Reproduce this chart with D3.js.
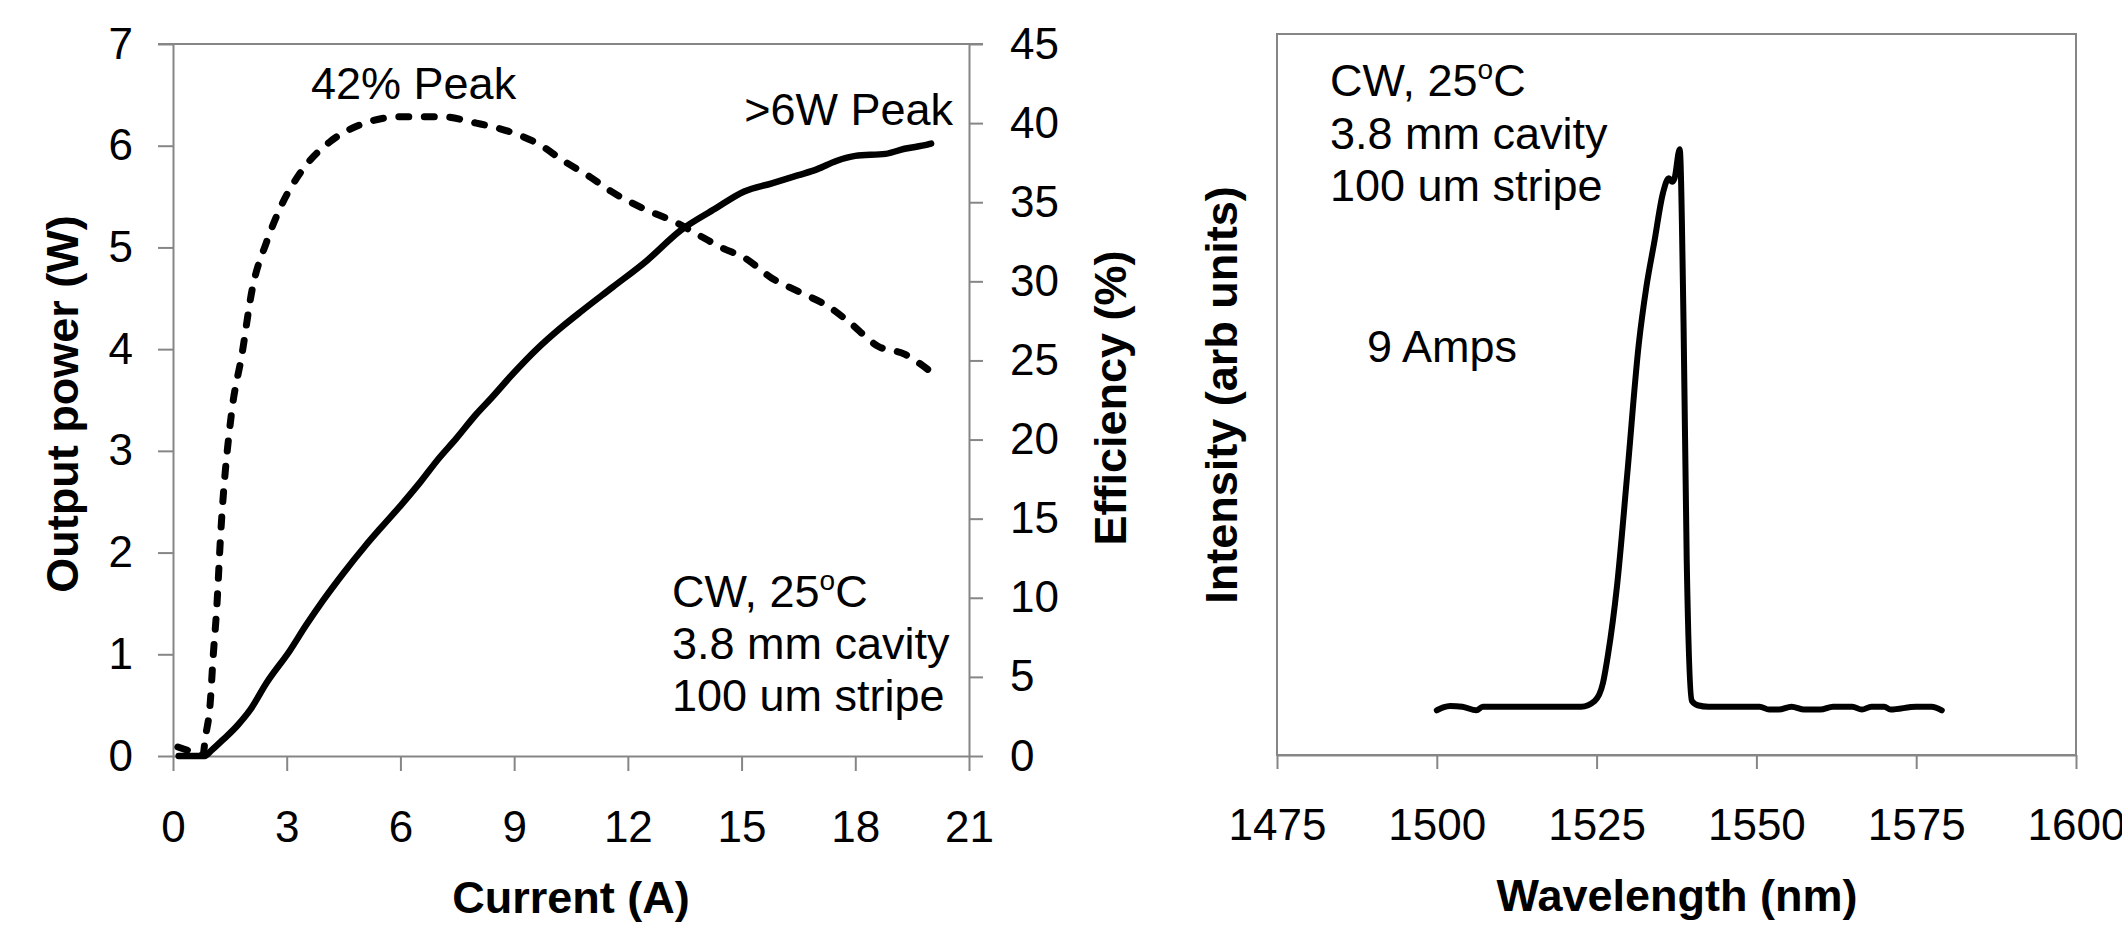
<!DOCTYPE html>
<html><head><meta charset="utf-8">
<script src="https://cdn.jsdelivr.net/npm/d3@7"></script>
<style>
body{margin:0;background:#fff;}
text{font-family:"Liberation Sans",Arial,sans-serif;fill:#000;}
</style></head><body>
<svg id="c" width="2122" height="927"></svg>
<script>
// ---- Data ----
const currentP = [0.15,0.5,0.84,1.0,1.32,1.7,2.03,2.47,3.09,3.5,3.96,4.5,5.06,5.5,6.0,6.54,7.0,7.47,8.0,8.4,8.95,9.6,10.2,10.8,11.6,12.5,13.4,14.3,15.07,15.8,16.5,17.0,17.5,18.0,18.8,19.3,19.9,20.0];
const powerW   = [0,0,0,0.05,0.16,0.3,0.45,0.72,1.04,1.28,1.53,1.8,2.06,2.25,2.46,2.7,2.92,3.12,3.36,3.52,3.75,4.0,4.2,4.38,4.61,4.87,5.17,5.38,5.55,5.63,5.71,5.77,5.85,5.9,5.92,5.97,6.01,6.02];
const currentE = [0.13,0.53,0.79,0.85,0.98,1.06,1.15,1.26,1.54,1.82,2.09,2.47,2.84,3.4,4.13,5.06,6.0,7.1,8.0,8.95,9.7,10.25,11.0,11.55,12.5,13.2,13.96,14.5,15.07,15.8,16.55,17.3,17.85,18.6,19.3,19.93];
const efficiencyPct = [0.57,0.25,0.06,1.1,3.3,6.3,9.2,14.1,21.6,25.4,29.5,32.5,34.7,37.0,38.8,40.0,40.4,40.4,40.0,39.4,38.6,37.7,36.6,35.7,34.5,33.8,32.8,32.1,31.5,30.2,29.3,28.4,27.4,25.9,25.4,24.4];
const wavelengthNm = [1500.0,1501,1502.1,1504,1506.2,1507.2,1512,1517,1522.6,1524.7,1526.0,1526.8,1528.2,1529.8,1531.6,1532.8,1534.0,1535.4,1536.3,1536.8,1537.2,1538.0,1538.6,1539.1,1539.9,1540.8,1542.5,1548,1550.5,1552,1553.5,1555.5,1557.5,1560,1562,1565,1566.5,1568,1570,1571,1575,1577.4,1579.0];
const intensityArb = [0.062,0.066,0.068,0.067,0.062,0.067,0.067,0.067,0.067,0.075,0.10,0.14,0.235,0.39,0.57,0.65,0.71,0.78,0.80,0.795,0.80,0.84,0.60,0.27,0.075,0.069,0.067,0.067,0.067,0.063,0.063,0.067,0.063,0.063,0.067,0.067,0.063,0.067,0.067,0.063,0.067,0.067,0.062];
const xTicksLeft = [0,3,6,9,12,15,18,21];
const yTicksPower = [0,1,2,3,4,5,6,7];
const yTicksEff = [0,5,10,15,20,25,30,35,40,45];
const xTicksRight = [1475,1500,1525,1550,1575,1600];

const AX = "#868686";
const fmt = d3.format("d");
const svg = d3.select("#c");

function styleAxis(g, fs){
  g.selectAll(".domain").attr("stroke", AX).attr("stroke-width", 2);
  g.selectAll(".tick line").attr("stroke", AX).attr("stroke-width", 2);
  g.selectAll(".tick text").attr("font-size", fs).attr("font-family", '"Liberation Sans",Arial,sans-serif').attr("fill", "#000");
}

// ---- Left chart ----
const xL = d3.scaleLinear([0,21],[173,969]);
const yP = d3.scaleLinear([0,7],[756,44]);
const yE = d3.scaleLinear([0,45],[756,44]);

// top border
svg.append("line").attr("x1",158).attr("x2",983).attr("y1",yP(7)).attr("y2",yP(7)).attr("stroke",AX).attr("stroke-width",2);

const gxL = svg.append("g").attr("transform","translate(0,756)")
  .call(d3.axisBottom(xL).tickValues(xTicksLeft).tickFormat(fmt).tickSize(15).tickSizeOuter(0));
styleAxis(gxL, 44);
gxL.selectAll(".tick text").attr("y", 86).attr("dy", 0);

const gyP = svg.append("g").attr("transform","translate(173,0)")
  .call(d3.axisLeft(yP).tickValues(yTicksPower).tickFormat(fmt).tickSize(15).tickPadding(25).tickSizeOuter(0));
styleAxis(gyP, 44);

const gyE = svg.append("g").attr("transform","translate(969,0)")
  .call(d3.axisRight(yE).tickValues(yTicksEff).tickFormat(fmt).tickSize(14).tickPadding(27).tickSizeOuter(0));
styleAxis(gyE, 44);

const powerData = currentP.map((c,i)=>[c,powerW[i]]);
const effData = currentE.map((c,i)=>[c,efficiencyPct[i]]);

svg.append("path").datum(powerData)
  .attr("d", d3.line().x(d=>xL(d[0])).y(d=>yP(d[1])).curve(d3.curveMonotoneX))
  .attr("fill","none").attr("stroke","#000").attr("stroke-width",6.5).attr("stroke-linejoin","round").attr("stroke-linecap","round");

svg.append("path").datum(effData)
  .attr("d", d3.line().x(d=>xL(d[0])).y(d=>yE(d[1])).curve(d3.curveMonotoneX))
  .attr("fill","none").attr("stroke","#000").attr("stroke-width",7).attr("stroke-dasharray","10,15.5").attr("stroke-linecap","round");

// titles
svg.append("text").attr("transform","translate(78,404) rotate(-90)").attr("text-anchor","middle")
  .attr("font-size",45).attr("font-weight","bold").text("Output power (W)");
svg.append("text").attr("transform","translate(1126,398) rotate(-90)").attr("text-anchor","middle")
  .attr("font-size",45).attr("font-weight","bold").text("Efficiency (%)");
svg.append("text").attr("x",571).attr("y",913).attr("text-anchor","middle")
  .attr("font-size",45).attr("font-weight","bold").text("Current (A)");

// annotations
svg.append("text").attr("x",311).attr("y",99).attr("font-size",45).text("42% Peak");
svg.append("text").attr("x",953).attr("y",125).attr("text-anchor","end").attr("font-size",45).text(">6W Peak");

function condText(x, ys){
  const t1 = svg.append("text").attr("x",x).attr("y",ys[0]).attr("font-size",45);
  t1.append("tspan").text("CW, 25");
  t1.append("tspan").attr("font-size",28).attr("dy",-17).text("o");
  t1.append("tspan").attr("dy",17).text("C");
  svg.append("text").attr("x",x).attr("y",ys[1]).attr("font-size",45).text("3.8 mm cavity");
  svg.append("text").attr("x",x).attr("y",ys[2]).attr("font-size",45).text("100 um stripe");
}
condText(672,[607,659,711]);

// ---- Right chart ----
const xW = d3.scaleLinear([1475,1600],[1277,2076]);
const yI = d3.scaleLinear([0,1],[755,34]);

svg.append("rect").attr("x",1277).attr("y",34).attr("width",2076-1277).attr("height",755-34)
  .attr("fill","none").attr("stroke",AX).attr("stroke-width",2);

const gxR = svg.append("g").attr("transform","translate(0,755)")
  .call(d3.axisBottom(xW).tickValues(xTicksRight).tickFormat(fmt).tickSize(14).tickSizeOuter(0));
styleAxis(gxR, 44);
gxR.selectAll(".tick text").attr("y", 85).attr("dy", 0);

const specData = wavelengthNm.map((w,i)=>[w,intensityArb[i]]);
svg.append("path").datum(specData)
  .attr("d", d3.line().x(d=>xW(d[0])).y(d=>yI(d[1])).curve(d3.curveMonotoneX))
  .attr("fill","none").attr("stroke","#000").attr("stroke-width",6).attr("stroke-linejoin","round").attr("stroke-linecap","round");

svg.append("text").attr("transform","translate(1237,395) rotate(-90)").attr("text-anchor","middle")
  .attr("font-size",45).attr("font-weight","bold").text("Intensity (arb units)");
svg.append("text").attr("x",1677).attr("y",911).attr("text-anchor","middle")
  .attr("font-size",45).attr("font-weight","bold").text("Wavelength (nm)");

condText(1330,[96,149,201]);
svg.append("text").attr("x",1367).attr("y",362).attr("font-size",45).text("9 Amps");
</script>
</body></html>
